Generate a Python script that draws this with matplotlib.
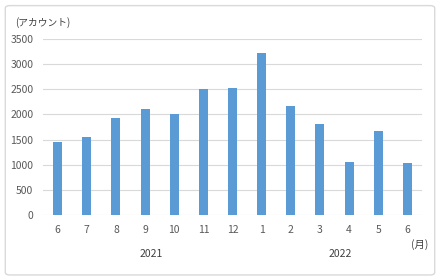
import matplotlib.pyplot as plt
from matplotlib.patches import FancyBboxPatch

plt.rcParams['font.family'] = ['Noto Sans CJK JP', 'DejaVu Sans']

# データ
months = ['6', '7', '8', '9', '10', '11', '12', '1', '2', '3', '4', '5', '6']
accounts = [1450, 1545, 1935, 2100, 2005, 2500, 2530, 3220, 2170, 1810, 1055, 1670, 1035]
years = ['2021', '2022']
year_pos = [3.2, 9.7]

fig = plt.figure(figsize=(4.4, 2.8), dpi=100)
fig.patches.append(FancyBboxPatch((0.012, 0.018), 0.976, 0.962,
                                  boxstyle='round,pad=0,rounding_size=0.01',
                                  transform=fig.transFigure, fill=False,
                                  ec='#D9D9D9', lw=1.0, zorder=-1))
ax = fig.add_axes([0.098, 0.232, 0.861, 0.629])
ax.patch.set_alpha(0)

x = range(len(months))
ax.bar(x, accounts, width=0.31, color='#5B9BD5', zorder=3)

ax.set_xlim(-0.5, len(months) - 0.5)
ax.set_ylim(0, 3500)
ax.set_yticks(range(0, 3501, 500))
ax.set_xticks(list(x))
ax.set_xticklabels(months)
ax.grid(axis='y', color='#D9D9D9', lw=0.8, zorder=0)
for s in ax.spines.values():
    s.set_visible(False)
ax.tick_params(length=0, labelsize=7.5, colors='#595959')
ax.tick_params(axis='y', pad=7)
ax.tick_params(axis='x', pad=7)

for yr, p in zip(years, year_pos):
    ax.text(p, -0.22, yr, transform=ax.get_xaxis_transform(), ha='center',
            va='center', fontsize=7.5, color='#404040')

fig.text(0.034, 0.918, '(アカウント)', fontsize=7, color='#404040', va='center')
fig.text(0.973, 0.125, '(月)', fontsize=7.5, color='#404040', va='center', ha='right')

fig.savefig('out.png', dpi=100)
